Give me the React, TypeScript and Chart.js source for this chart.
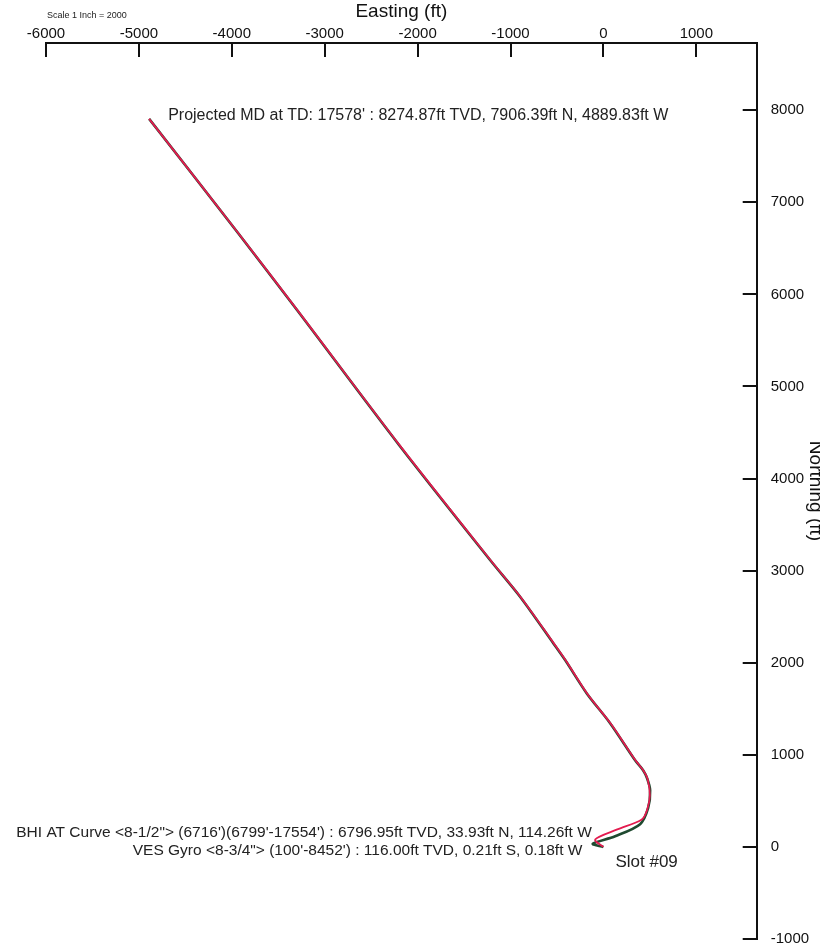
import React, { useEffect, useRef } from 'react';
import { Chart, registerables } from 'chart.js';

Chart.register(...registerables);

// VES Gyro survey (dark green)
const gyroEasting = [0, -114.26, 126, 395, 481, 503, 470, 427, 341, 72, -179, -412, -538, -897, -1220, -2200, -3300, -3935, -4889.83];
const gyroNorthing = [0, 33.93, 116, 247, 420, 616, 746, 833, 942, 1344, 1667, 2029, 2210, 2717, 3116, 4365, 5833, 6669, 7906.39];

// BHI AT Curve survey + projection to TD (red)
const curveEasting = [0, -89, 150, 413, 470, 500, 475, 430, 345, 78, -172, -405, -530, -890, -1212, -2192, -3292, -3927, -4889.83];
const curveNorthing = [0, 80, 190, 298, 400, 560, 740, 830, 940, 1340, 1660, 2025, 2205, 2712, 3110, 4360, 5826, 6662, 7906.39];

// Axis ranges / ticks
const eastingMin = -6000;
const eastingMax = 1650;
const northingMin = -1000;
const northingMax = 8730;
const eastingTicks = [-6000, -5000, -4000, -3000, -2000, -1000, 0, 1000];
const northingTicks = [-1000, 0, 1000, 2000, 3000, 4000, 5000, 6000, 7000, 8000];

// Annotations
const annotationTexts = [
  "Projected MD at TD: 17578' : 8274.87ft TVD, 7906.39ft N, 4889.83ft W",
  'BHI AT Curve <8-1/2"> (6716\')(6799\'-17554\') : 6796.95ft TVD, 33.93ft N, 114.26ft W',
  'VES Gyro <8-3/4"> (100\'-8452\') : 116.00ft TVD, 0.21ft S, 0.18ft W',
  'Slot #09',
];
const annotationEasting = [-4889.83, -114.26, 0, 0];
const annotationNorthing = [7906.39, 33.93, 0, 0];

const scaleNote = 'Scale 1 Inch = 2000';

const FONT = "'Liberation Sans', Arial, Helvetica, sans-serif";

const annotationStyle = [
  { dx: 19, dy: -3, align: 'left' as CanvasTextAlign, size: 16 },
  { dx: -1, dy: -11, align: 'right' as CanvasTextAlign, size: 15.5 },
  { dx: -21, dy: 4, align: 'right' as CanvasTextAlign, size: 15.5 },
  { dx: 12, dy: 15, align: 'left' as CanvasTextAlign, size: 17 },
];

const annotationPlugin = {
  id: 'wellAnnotations',
  afterDatasetsDraw(chart: any) {
    const { ctx, scales } = chart;
    const xs = scales.x;
    const ys = scales.y;
    ctx.save();
    ctx.fillStyle = '#222';
    ctx.textBaseline = 'middle';
    annotationTexts.forEach((t, i) => {
      const st = annotationStyle[i];
      const px = xs.getPixelForValue(annotationEasting[i]) + st.dx;
      const py = ys.getPixelForValue(annotationNorthing[i]) + st.dy;
      ctx.font = `${st.size}px ${FONT}`;
      ctx.textAlign = st.align;
      ctx.fillText(t, px, py);
    });
    ctx.font = `9px ${FONT}`;
    ctx.textAlign = 'left';
    ctx.fillText(scaleNote, 47, 16);
    ctx.restore();
  },
};

export default function App() {
  const canvasRef = useRef<HTMLCanvasElement | null>(null);

  useEffect(() => {
    if (!canvasRef.current) return;
    const gyro = gyroEasting.map((e, i) => ({ x: e, y: gyroNorthing[i] }));
    const curve = curveEasting.map((e, i) => ({ x: e, y: curveNorthing[i] }));

    const chart = new Chart(canvasRef.current, {
      type: 'scatter',
      data: {
        datasets: [
          {
            label: 'BHI AT Curve',
            data: curve,
            showLine: true,
            borderColor: '#e31b4f',
            borderWidth: 1.8,
            pointRadius: 0,
            tension: 0.3,
            order: 0,
          },
          {
            label: 'VES Gyro',
            data: gyro,
            showLine: true,
            borderColor: '#1f4a30',
            borderWidth: 2.6,
            pointRadius: 0,
            tension: 0.3,
            order: 1,
          },
        ],
      },
      options: {
        responsive: false,
        animation: false,
        devicePixelRatio: 1,
        layout: { padding: { left: 46, top: 0, right: 0, bottom: 9 } },
        plugins: {
          legend: { display: false },
          tooltip: { enabled: false },
          title: { display: false },
        },
        scales: {
          x: {
            type: 'linear',
            position: 'top',
            min: eastingMin,
            max: eastingMax,
            afterFit: (s: any) => { s.height = 43; s.paddingLeft = 0; s.paddingRight = 0; },
            afterBuildTicks: (s: any) => { s.ticks = eastingTicks.map((v) => ({ value: v })); },
            ticks: {
              maxRotation: 0,
              autoSkip: false,
              padding: 14,
              color: '#111',
              font: { family: FONT, size: 15 },
              callback: (v: any) => String(v),
            },
            grid: {
              drawOnChartArea: false,
              drawTicks: true,
              tickLength: -14,
              color: '#111',
              lineWidth: 2,
            },
            border: { display: true, color: '#111', width: 2 },
            title: {
              display: true,
              text: 'Easting (ft)',
              color: '#111',
              font: { family: FONT, size: 19 },
              padding: { top: 0, bottom: 0 },
            },
          },
          y: {
            type: 'linear',
            position: 'right',
            min: northingMin,
            max: northingMax,
            afterFit: (s: any) => { s.width = 63.3; s.paddingTop = 0; s.paddingBottom = 0; },
            afterBuildTicks: (s: any) => { s.ticks = northingTicks.map((v) => ({ value: v })); },
            ticks: {
              autoSkip: false,
              padding: 28,
              color: '#111',
              font: { family: FONT, size: 15 },
              callback: (v: any) => String(v),
            },
            grid: {
              drawOnChartArea: false,
              drawTicks: true,
              tickLength: -14,
              color: '#111',
              lineWidth: 2,
            },
            border: { display: true, color: '#111', width: 2 },
            title: {
              display: true,
              text: 'Northing (ft)',
              color: '#111',
              font: { family: FONT, size: 19 },
              padding: { top: -7, bottom: 0 },
            },
          },
        },
      },
      plugins: [annotationPlugin],
    });
    return () => chart.destroy();
  }, []);

  return (
    <div style={{ position: 'absolute', left: 0, top: 0, width: 820, height: 948, background: '#fff' }}>
      <canvas ref={canvasRef} width={820} height={948} />
    </div>
  );
}
